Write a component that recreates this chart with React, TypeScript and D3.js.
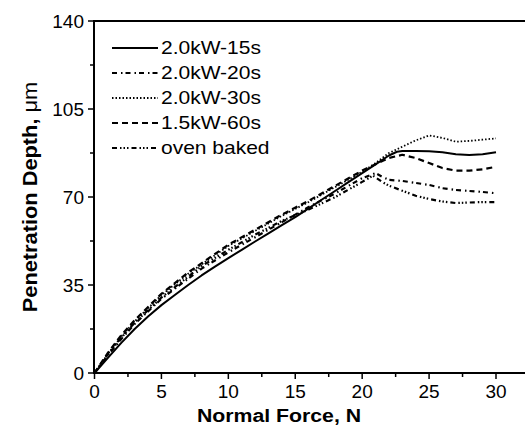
import React from "react";
import * as d3 from "d3";

const xTicks = [0, 5, 10, 15, 20, 25, 30];
const xMinor = [2.5, 7.5, 12.5, 17.5, 22.5, 27.5];
const yTicks = [0, 35, 70, 105, 140];
const yMinor = [17.5, 52.5, 87.5, 122.5];

const f15x = [0, 1, 2, 3, 4, 5, 6, 7, 8, 9, 10, 11, 12, 13, 14, 15, 16, 17, 18, 19, 20, 21, 22, 22.6, 23, 24, 25, 26, 27, 28, 29, 30];
const f15y = [0, 6, 12, 17.5, 22.5, 27, 31, 35, 38.8, 42.3, 45.7, 49, 52.3, 55.5, 58.8, 62, 65.5, 69, 72.5, 76, 79.5, 83, 86.5, 88, 88.3, 88.3, 88.2, 87.8, 87, 86.7, 87, 87.8];

const f20x = [0, 1, 2, 3, 5, 8, 10, 12, 14, 16, 18, 19, 20, 21, 21.5, 22, 23, 24, 25, 26, 27, 28, 29, 30];
const f20y = [0, 7, 13.5, 19.5, 29.5, 41.5, 48, 54, 60, 66, 71.5, 74.5, 77.5, 79.5, 78, 76.8, 76.4, 75.6, 74.8, 73.5, 72.8, 72.4, 72, 71.5];

const f30x = [0, 1, 2, 3, 5, 7, 10, 12, 14, 16, 18, 20, 21, 22, 23, 24, 25, 26, 27, 28, 29, 30];
const f30y = [0, 7.5, 14.5, 20.5, 31, 39.5, 50.5, 56.5, 62.5, 68, 74, 80, 83.5, 87.5, 90, 92.5, 94.5, 93.5, 92, 92.3, 92.8, 93.3];

const f60x = [0, 1, 2, 3, 5, 7, 10, 12, 14, 16, 18, 20, 21, 22, 23, 24, 25, 26, 27, 28, 29, 30];
const f60y = [0, 8, 15, 21, 31.5, 40, 51, 57, 63, 68.5, 74.5, 80.5, 83, 85.5, 86.8, 85.5, 83.5, 81.5, 80.5, 80.5, 81, 82];

const fOvx = [0, 1, 2, 3, 5, 8, 10, 12, 14, 16, 17, 18, 19, 20, 20.8, 21.5, 22, 23, 24, 25, 26, 27, 28, 29, 30];
const fOvy = [0, 7.5, 14, 20, 30, 42.5, 49, 55, 60.5, 65, 67.5, 70, 73, 76, 78.5, 76, 74.5, 72.5, 70.5, 69.2, 68.2, 67.6, 67.8, 68, 68];

const seriesNames = ["2.0kW-15s", "2.0kW-20s", "2.0kW-30s", "1.5kW-60s", "oven baked"];
const seriesX = [f15x, f20x, f30x, f60x, fOvx];
const seriesY = [f15y, f20y, f30y, f60y, fOvy];
const dashes = ["none", "5 4 1.5 3", "1.5 2", "6 4", "5 3 1.5 2 1.5 2 1.5 3"];
const widths = [2, 2.2, 1.8, 2.2, 2.2];

export default function App() {
  const W = 525, H = 425;
  const x = d3.scaleLinear().domain([0, 30]).range([94.5, 496]);
  const y = d3.scaleLinear().domain([0, 140]).range([373, 21]);
  const line = d3.line<[number, number]>().x(d => x(d[0])).y(d => y(d[1]));
  const font = "Arial, 'Liberation Sans', sans-serif";
  const axX = 94;
  return (
    <svg width={W} height={H} style={{ position: "absolute", left: 0, top: 0, background: "#fff" }}>
      <rect x={0} y={0} width={W} height={H} fill="#fff" />
      {seriesNames.map((n, i) => (
        <path key={n} d={line(seriesX[i].map((v, j) => [v, seriesY[i][j]] as [number, number])) || ""}
          fill="none" stroke="#000" strokeWidth={widths[i]} strokeDasharray={dashes[i]} strokeLinejoin="round" />
      ))}
      {/* frame */}
      <line x1={axX} x2={W + 5} y1={y(140)} y2={y(140)} stroke="#000" strokeWidth={2} />
      <line x1={axX} x2={W + 5} y1={y(0)} y2={y(0)} stroke="#000" strokeWidth={2} />
      <line x1={axX} x2={axX} y1={y(140) - 1} y2={y(0) + 1} stroke="#000" strokeWidth={2} />
      {xTicks.map(t => (
        <g key={"xt" + t}>
          <line x1={x(t)} x2={x(t)} y1={y(0)} y2={y(0) + 6} stroke="#000" strokeWidth={1.5} />
          <text x={x(t)} y={398} textAnchor="middle" fontFamily={font} fontSize={19}>{t}</text>
        </g>
      ))}
      {xMinor.map(t => (
        <line key={"xm" + t} x1={x(t)} x2={x(t)} y1={y(0)} y2={y(0) + 4} stroke="#000" strokeWidth={1.5} />
      ))}
      {yTicks.map(t => (
        <g key={"yt" + t}>
          <line x1={axX - 6} x2={axX} y1={y(t)} y2={y(t)} stroke="#000" strokeWidth={1.5} />
          <text x={84} y={y(t) + 7} textAnchor="end" fontFamily={font} fontSize={19}>{t}</text>
        </g>
      ))}
      {yMinor.map(t => (
        <line key={"ym" + t} x1={axX - 4} x2={axX} y1={y(t)} y2={y(t)} stroke="#000" strokeWidth={1.5} />
      ))}
      <text transform="translate(279,422) scale(1.12,1)" textAnchor="middle" fontFamily={font} fontSize={19} fontWeight="bold">Normal Force, N</text>
      <text transform="translate(37,197) rotate(-90) scale(1.09,1)" textAnchor="middle" fontFamily={font} fontSize={20} fontWeight="bold">Penetration Depth, <tspan fontWeight="normal">μm</tspan></text>
      {seriesNames.map((n, i) => {
        const ly = 48 + i * 25;
        return (
          <g key={"lg" + n}>
            <line x1={112} x2={158} y1={ly} y2={ly} stroke="#000" strokeWidth={widths[i]} strokeDasharray={dashes[i]} />
            <text transform={`translate(161,${ly + 6}) scale(1.2,1)`} fontFamily={font} fontSize={17.5}>{n}</text>
          </g>
        );
      })}
    </svg>
  );
}
